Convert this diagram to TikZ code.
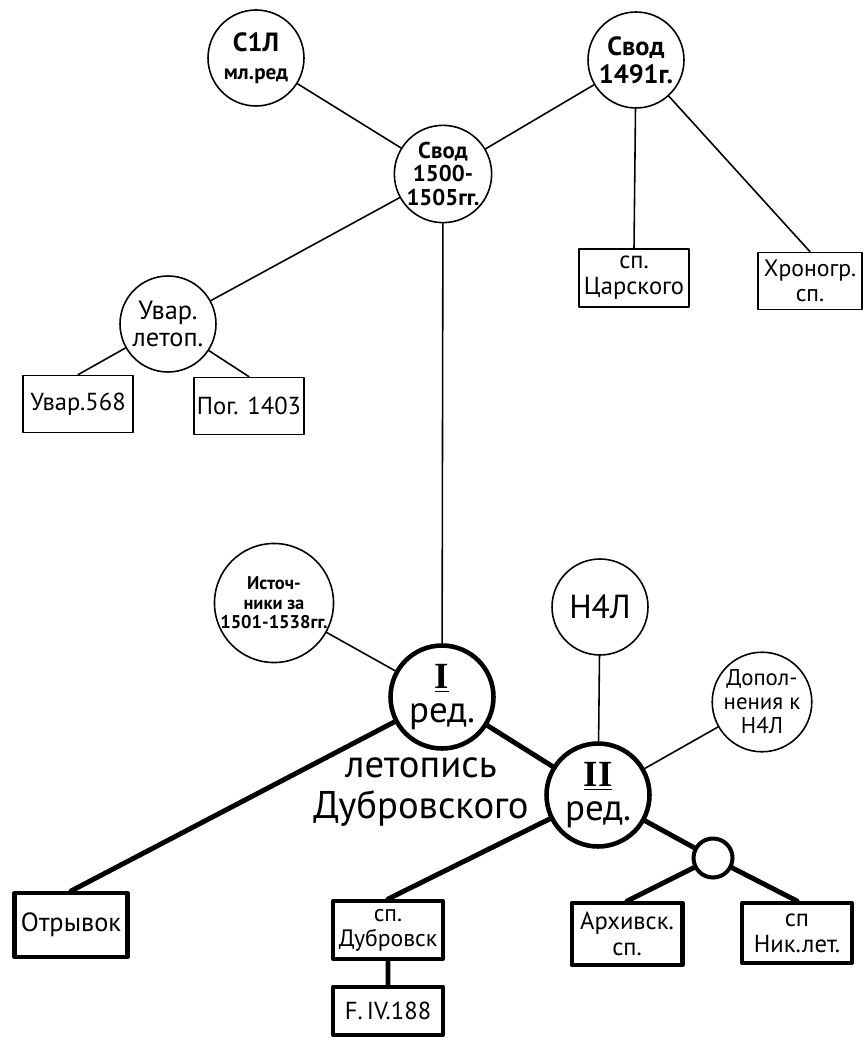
\documentclass[tikz,border=0pt]{standalone}
\usepackage{fontspec}
\setmainfont{PT Sans}
\newfontfamily\rimfont{Liberation Serif}
\newcommand{\fs}[1]{\fontsize{#1}{1.05\dimexpr#1pt\relax}\selectfont}
\begin{document}
\begin{tikzpicture}[x=0.02cm, y=-0.02cm, line join=round, line cap=round,
	kr/.style={circle, draw, line width=0.9pt, minimum size=1.92cm, inner sep=0pt, align=center, font=\fs{14}},
	krt/.style={kr, line width=2.6pt, minimum size=2.06cm, font=\fs{21}},
	pr/.style={rectangle, draw, line width=0.9pt, minimum width=2.2cm, minimum height=1.14cm, inner sep=1pt, align=center, font=\fs{14}},
	prt/.style={pr, line width=2.3pt},
	ln/.style={line width=0.9pt},
	lnt/.style={line width=2.8pt}]
	\useasboundingbox (0,0) rectangle (864,1043);
	% верхняя часть
	\node[kr, font=\bfseries\fs{15}] (s1l) at (256,58) {С1Л\\{\fs{12}мл.ред}};
	\node[kr, font=\bfseries\fs{15}] (sv91) at (636,60) {Свод\\1491г.};
	\node[kr, font=\bfseries\fs{13}] (sv00) at (443,174) {Свод\\1500-\\1505гг.};
	\node[kr, font=\fs{15}] (uvl) at (168,324) {Увар.\\летоп.};
	\node[pr] (u568) at (78,404) {Увар.568};
	\node[pr] (pog) at (249,406) {Пог. 1403};
	\node[pr, minimum height=1.16cm] (car) at (634,278) {сп.\\Царского};
	\node[pr, minimum width=2.08cm, minimum height=1.14cm, font=\fs{13.5}] (hron) at (810,281) {Хроногр.\\сп.};
	\draw[ln] (s1l)--(sv00) (sv91)--(sv00) (sv00)--(uvl)
		(uvl)--(u568.north) (uvl)--(pog.north)
		(sv91)--(car.north) (sv91)--(hron.north);
	% нижняя часть
	\node[kr, font=\bfseries\fs{10.5}] (ist) at (274,603) {Источ-\\ники за\\1501-1538гг.};
	\node[kr, font=\fs{19}] (n4l) at (600,607) {Н4Л};
	\node[kr, font=\fs{13}] (dop) at (762,702) {Допол-\\нения к\\Н4Л};
	\node[krt] (red1) at (442,697) {{\rimfont\bfseries\underline{I}}\\[-3pt]ред.};
	\node[krt] (red2) at (598,795) {{\rimfont\bfseries\underline{II}}\\[-3pt]ред.};
	\node[align=center, font=\fs{22}, inner sep=0pt] (let) at (421,792) {летопись\\Дубровского};
	\node[circle, draw, line width=2.3pt, minimum size=0.78cm, inner sep=0pt] (uzel) at (713,858) {};
	\node[prt, minimum width=2.26cm, minimum height=1.28cm, font=\fs{15}] (otr) at (71,925) {Отрывок};
	\node[prt, minimum height=1.16cm, font=\fs{13.5}] (dub) at (388,930) {сп.\\Дубровск};
	\node[prt, minimum height=0.96cm] (f188) at (388,1011) {F.\,IV.188};
	\node[prt, minimum width=2.22cm, minimum height=1.24cm] (arh) at (627,934) {Архивск.\\сп.};
	\node[prt, minimum height=1.2cm] (nik) at (797,933) {сп\\Ник.лет.};
	\draw[ln] (sv00)--(red1) (ist)--(red1) (n4l)--(red2) (dop)--(red2);
	\draw[lnt] (red1)--(red2) (red1)--(otr.north) (red2)--(dub.north)
		(red2)--(uzel) (uzel)--(arh.north) (uzel)--(nik.north) (dub)--(f188);
\end{tikzpicture}
\end{document}
